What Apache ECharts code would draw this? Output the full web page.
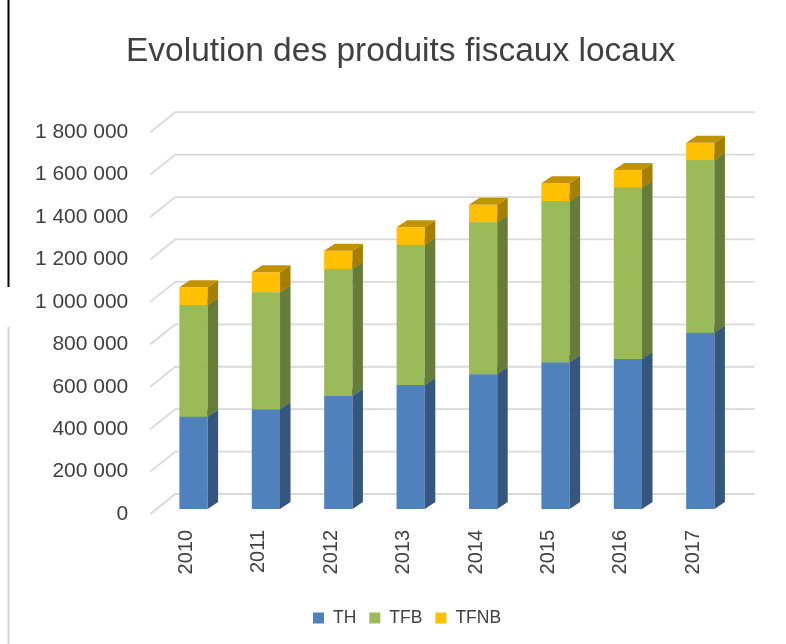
<!DOCTYPE html>
<html>
<head>
<meta charset="utf-8">
<script src="https://cdn.jsdelivr.net/npm/echarts@6/dist/echarts.min.js"></script>
<style>
  html, body { margin: 0; padding: 0; background: #ffffff; }
  #chart { width: 786px; height: 644px; }
</style>
</head>
<body>
<div id="chart"></div>
<script>
// ---- data ----
const categories = ['2010', '2011', '2012', '2013', '2014', '2015', '2016', '2017'];
const thValues   = [435000, 470000, 533000, 585000, 635000, 692000, 707000, 831000];
const tfbValues  = [527000, 552000, 599000, 660000, 717000, 760000, 808000, 814000];
const tfnbValues = [83000, 94000, 86000, 83000, 82000, 84000, 83000, 82000];
const yTickValues = [0, 200000, 400000, 600000, 800000, 1000000, 1200000, 1400000, 1600000, 1800000];
const yTickLabels = ['0', '200 000', '400 000', '600 000', '800 000', '1 000 000', '1 200 000', '1 400 000', '1 600 000', '1 800 000'];
const seriesNames = ['TH', 'TFB', 'TFNB'];

// ---- pseudo-3D geometry ----
const FACE_DX = 7, FACE_DY = 5;     // bar front face offset from front plane
const SIDE_DX = 10.5, SIDE_DY = 7;  // bar depth
const WALL_DX = 25, WALL_DY = 20;   // back wall offset
const BAR_RATIO = 0.39;

const chart = echarts.init(document.getElementById('chart'));

function stackData(values, bases) {
  return values.map((v, i) => [i, bases[i], bases[i] + v]);
}
const base0 = categories.map(() => 0);
const base1 = thValues.slice();
const base2 = thValues.map((v, i) => v + tfbValues[i]);

function barRenderer(front, side, top) {
  return function (params, api) {
    const cat = api.value(0);
    const pb = api.coord([cat, api.value(1)]);
    const pt = api.coord([cat, api.value(2)]);
    const w = api.size([1, 0])[0] * BAR_RATIO;
    const cx = pb[0] + FACE_DX;
    const x0 = cx - w / 2, x1 = cx + w / 2;
    const yb = pb[1] - FACE_DY, yt = pt[1] - FACE_DY;
    return {
      type: 'group',
      children: [
        { type: 'rect', shape: { x: x0, y: yt, width: w, height: yb - yt }, style: { fill: front } },
        { type: 'polygon', shape: { points: [[x1, yt], [x1 + SIDE_DX, yt - SIDE_DY], [x1 + SIDE_DX, yb - SIDE_DY], [x1, yb]] }, style: { fill: side } },
        { type: 'polygon', shape: { points: [[x0, yt], [x0 + SIDE_DX, yt - SIDE_DY], [x1 + SIDE_DX, yt - SIDE_DY], [x1, yt]] }, style: { fill: top } }
      ]
    };
  };
}

function gridRenderer(params, api) {
  const cs = params.coordSys;
  const y = api.coord([0, api.value(0)])[1];
  const xl = cs.x;
  const xr = cs.x + cs.width + WALL_DX;
  return {
    type: 'polyline',
    shape: { points: [[xl, y], [xl + WALL_DX, y - WALL_DY], [xr, y - WALL_DY]] },
    style: { stroke: '#d9d9d9', lineWidth: 1.8, fill: null }
  };
}

const option = {
  backgroundColor: '#ffffff',
  animation: false,
  textStyle: { fontFamily: 'Liberation Sans' },
  title: {
    text: 'Evolution des produits fiscaux locaux',
    left: 126,
    top: 35,
    padding: 0,
    textStyle: { fontFamily: 'Liberation Sans', fontSize: 33.5, fontWeight: 'normal', color: '#404040' }
  },
  legend: {
    data: seriesNames,
    left: 313,
    top: 609,
    padding: 0,
    icon: 'rect',
    itemWidth: 11,
    itemHeight: 11,
    itemGap: 13,
    textStyle: { fontFamily: 'Liberation Sans', fontSize: 17.5, color: '#404040', padding: [0, 0, 0, 4] }
  },
  grid: { left: 150.3, right: 56.5, top: 132.2, bottom: 130, containLabel: false },
  xAxis: {
    type: 'category',
    data: categories,
    axisLine: { show: false },
    axisTick: { show: false },
    axisLabel: { rotate: 90, margin: 16, fontSize: 20, color: '#404040', fontFamily: 'Liberation Sans' }
  },
  yAxis: {
    type: 'value',
    min: 0,
    max: 1800000,
    interval: 200000,
    axisLine: { show: false },
    axisTick: { show: false },
    splitLine: { show: false },
    axisLabel: {
      margin: 22,
      fontSize: 21,
      color: '#404040',
      fontFamily: 'Liberation Sans',
      formatter: function (v) {
        const i = yTickValues.indexOf(v);
        return i >= 0 ? yTickLabels[i] : '';
      }
    }
  },
  graphic: [
    { type: 'line', shape: { x1: 8.5, y1: 0, x2: 8.5, y2: 287 }, style: { stroke: '#000000', lineWidth: 2 } },
    { type: 'line', shape: { x1: 8.5, y1: 327, x2: 8.5, y2: 644 }, style: { stroke: '#d4d4d4', lineWidth: 2 } }
  ],
  series: [
    {
      name: 'grid', type: 'custom', z: 1, silent: true,
      renderItem: gridRenderer,
      data: yTickValues.map(v => [v]),
      encode: { y: 0 }
    },
    {
      name: seriesNames[0], type: 'custom', z: 2,
      itemStyle: { color: '#4f81bd' },
      renderItem: barRenderer('#4f81bd', '#35567e', '#3f6797'),
      data: stackData(thValues, base0),
      encode: { x: 0, y: [1, 2] }
    },
    {
      name: seriesNames[1], type: 'custom', z: 3,
      itemStyle: { color: '#9bbb59' },
      renderItem: barRenderer('#9bbb59', '#667c3b', '#7c9647'),
      data: stackData(tfbValues, base1),
      encode: { x: 0, y: [1, 2] }
    },
    {
      name: seriesNames[2], type: 'custom', z: 4,
      itemStyle: { color: '#ffc000' },
      renderItem: barRenderer('#ffc000', '#a67e00', '#c29300'),
      data: stackData(tfnbValues, base2),
      encode: { x: 0, y: [1, 2] }
    }
  ]
};
chart.setOption(option);
</script>
</body>
</html>
